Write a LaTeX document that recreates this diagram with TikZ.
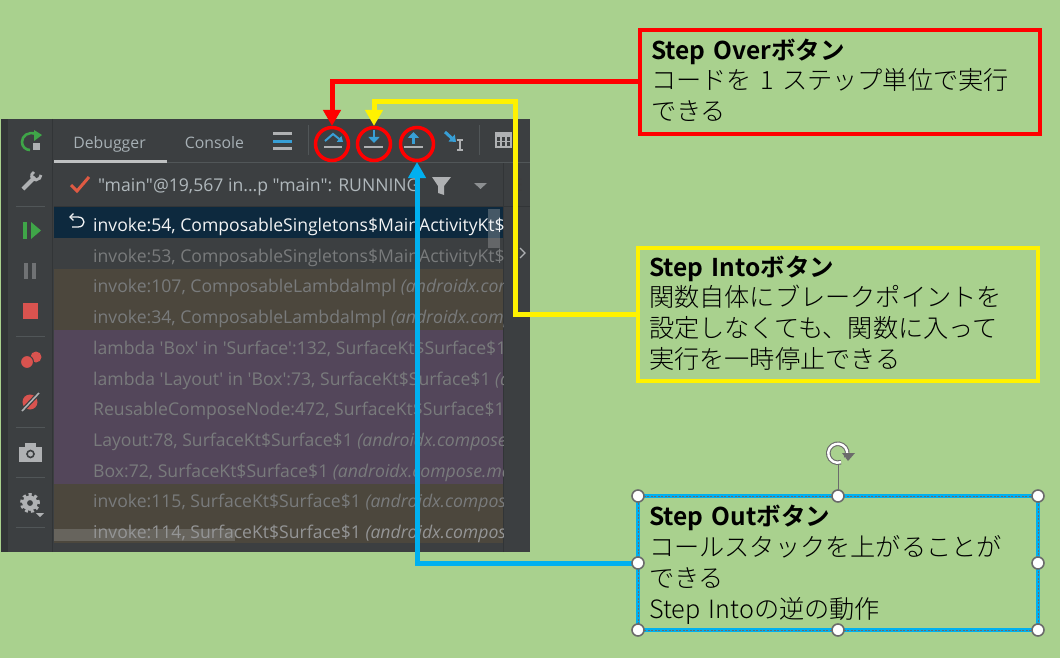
\documentclass[tikz,border=0pt]{standalone}
\usepackage{fontspec}
\newfontfamily\idefont{Open Sans}
\newfontfamily\jpfont[BoldFont={Noto Sans CJK JP Bold}]{Noto Sans CJK JP Light}
\usetikzlibrary{arrows.meta}

\definecolor{sheetgreen}{HTML}{A9D18E}
\definecolor{panelgrey}{HTML}{3C3F41}
\definecolor{edgegrey}{HTML}{323537}
\definecolor{rulegrey}{HTML}{515658}
\definecolor{iconblue}{HTML}{389FD6}
\definecolor{icongrey}{HTML}{AFB1B3}
\definecolor{iconred}{HTML}{D9534F}
\definecolor{icongreen}{HTML}{3FA548}
\definecolor{rowblue}{HTML}{0D293E}
\definecolor{rowbrown}{HTML}{4C473D}
\definecolor{rowpurple}{HTML}{53465A}
\definecolor{rowtext}{HTML}{797B7C}
\definecolor{tabtext}{HTML}{A7B0B5}
\definecolor{calloutblue}{HTML}{00B0F0}
\definecolor{handlegrey}{HTML}{6B6B6B}

\newcommand{\headline}[1]{{\fontsize{24.5}{30.7}\selectfont\bfseries #1}}
\newcommand{\tailstrut}{\rule[-5pt]{0pt}{1pt}}
\newcommand{\headstrut}{\rule{0pt}{24pt}}

\tikzset{
	x=1pt, y=-1pt,
	idetext/.style={anchor=base west, inner sep=0pt, font=\idefont\fontsize{17.6}{17.6}\selectfont},
	rowlabel/.style={idetext, color=rowtext},
	tablabel/.style={anchor=base, inner sep=0pt, color=tabtext, font=\idefont\fontsize{15.8}{16}\selectfont},
	callout/.style={draw, line width=4pt, outer sep=0pt, minimum width=400pt, text width=378pt, inner xsep=11pt, align=left, text=black, font=\jpfont\fontsize{25.2}{30.7}\selectfont},
	ringmark/.style={circle, draw=red, line width=3.5pt, minimum size=33pt, inner sep=0pt, outer sep=1.5pt},
	handle/.style={circle, draw=handlegrey, fill=white, line width=1.6pt, minimum size=12pt, inner sep=0pt},
	leader/.style={line width=5pt, -{Triangle[width=17pt,length=16pt]}},
	sidesep/.style={line width=1pt, color=rulegrey},
	baseline bar/.style={line width=2.5pt, color=icongrey},
}

\begin{document}
\begin{tikzpicture}
	%%%%% PANEL %%%%%
	\fill[sheetgreen] (0, 0) rectangle (1060, 658);
	\fill[panelgrey] (1, 119) rectangle (530, 552);
	\fill[edgegrey] (1, 119) rectangle (8, 552);
	\draw[line width=1pt, color=edgegrey] (52.5, 119) -- (52.5, 552);
	\draw[line width=1pt, color=edgegrey] (503.5, 163) -- (503.5, 552);
	\fill[rowblue] (54, 207) rectangle (503, 238);
	\fill[rowbrown] (54, 269) rectangle (503, 330);
	\fill[rowpurple] (54, 330) rectangle (503, 484);
	\fill[rowbrown] (54, 484) rectangle (503, 543);
	\draw[line width=1pt, color=rulegrey] (54, 162.5) -- (530, 162.5);
	\draw[line width=1pt, color=edgegrey] (54, 206.5) -- (530, 206.5);
	\fill[color=icongrey, opacity=0.28] (54, 529) rectangle (235, 541);
	\fill[color=icongrey, opacity=0.35] (488, 209) rectangle (500, 248);
	\draw[line width=3pt, color=icongrey!80] (54, 161) -- (167, 161);

	%%%%% TEXTS %%%%%
	\node[tablabel] (tabdebug) at (109.5, 149) {Debugger};
	\node[tablabel] (tabconsole) at (214.5, 149) {Console};
	\node[idetext, color=tabtext!90!white] (threadline) at (98, 191) {"main"@19,567 in...p "main": RUNNING};
	\node[rowlabel, color=rowtext!50!black, anchor=base] (cutletter) at (518, 191) {E};

	\begin{scope}
		\clip (54, 207) rectangle (503, 552);
		\node[idetext, color=white!85!tabtext] (rowa) at (93, 231) {invoke:54, ComposableSingletons\$MainActivityKt\$};
		\node[rowlabel] (rowb) at (93, 262) {invoke:53, ComposableSingletons\$MainActivityKt\$};
		\node[rowlabel] (rowc) at (93, 292) {invoke:107, ComposableLambdaImpl \textit{(androidx.compose}};
		\node[rowlabel] (rowd) at (93, 323) {invoke:34, ComposableLambdaImpl \textit{(androidx.compose}};
		\node[rowlabel] (rowe) at (93, 354) {lambda 'Box' in 'Surface':132, SurfaceKt\$Surface\$1 \textit{(androidx}};
		\node[rowlabel] (rowf) at (93, 385) {lambda 'Layout' in 'Box':73, SurfaceKt\$Surface\$1 \textit{(androidx}};
		\node[rowlabel] (rowg) at (93, 415) {ReusableComposeNode:472, SurfaceKt\$Surface\$1 \textit{(androidx}};
		\node[rowlabel] (rowh) at (93, 446) {Layout:78, SurfaceKt\$Surface\$1 \textit{(androidx.compose.material}};
		\node[rowlabel] (rowi) at (93, 477) {Box:72, SurfaceKt\$Surface\$1 \textit{(androidx.compose.material}};
		\node[rowlabel] (rowj) at (93, 507) {invoke:115, SurfaceKt\$Surface\$1 \textit{(androidx.compose.material}};
		\node[rowlabel, color=rowtext!80!white] (rowk) at (93, 538) {invoke:114, SurfaceKt\$Surface\$1 \textit{(androidx.compose.material}};
	\end{scope}

	%%%%% LEFT ICONS %%%%%
	\draw[line width=2.6pt, color=icongreen] (36, 134) .. controls (28, 131) and (22, 136) .. (22, 142) .. controls (22, 147) and (26, 150) .. (30, 150);
	\fill[icongreen] (34, 130) -- (42, 135) -- (34, 141) -- cycle;
	\fill[icongrey] (33, 143) rectangle (40, 150);

	\draw[line width=4pt, color=icongrey] (23, 189) -- (35, 177);
	\draw[line width=2.8pt, color=icongrey] (34, 172) .. controls (30, 174) and (31, 180) .. (36, 180) .. controls (39, 180) and (41, 177) .. (41, 175);

	\draw[sidesep] (16, 206) -- (45, 206);
	\fill[icongreen] (23, 222) rectangle (27, 239);
	\fill[icongreen] (31, 222) -- (41, 230.5) -- (31, 239) -- cycle;
	\fill[color=icongrey!45!panelgrey] (24, 263) rectangle (28, 279);
	\fill[color=icongrey!45!panelgrey] (32, 263) rectangle (36, 279);
	\fill[iconred] (23, 303) rectangle (38, 319);
	\draw[sidesep] (16, 336) -- (45, 336);

	\fill[iconred] (36, 357) circle (5.5pt);
	\draw[fill=iconred, draw=panelgrey, line width=1pt] (27, 362) circle (6.5pt);
	\fill[iconred] (30, 402) circle (7.5pt);
	\draw[line width=4pt, color=panelgrey] (22, 411) -- (39, 393);
	\draw[line width=1.6pt, color=icongrey] (22, 411) -- (39, 393);
	\draw[sidesep] (16, 427) -- (45, 427);

	\fill[icongrey] (19, 447) rectangle (42, 462);
	\fill[icongrey] (25, 443) rectangle (36, 448);
	\draw[line width=1.6pt, color=panelgrey] (30.5, 454) circle (3.5pt);
	\draw[sidesep] (16, 477) -- (45, 477);

	\draw[line width=4.5pt, color=icongrey] (30, 503) circle (5.5pt);
	\draw[line width=3pt, color=icongrey, dash pattern=on 3pt off 2.8pt] (30, 503) circle (8.5pt);
	\fill[icongrey] (36, 513) -- (44, 513) -- (40, 517) -- cycle;
	\draw[sidesep] (16, 527) -- (45, 527);

	%%%%% TOOLBAR ICONS %%%%%
	\draw[line width=3pt, color=icongrey] (273, 133.5) -- (292, 133.5);
	\draw[line width=3pt, color=iconblue] (273, 141.5) -- (292, 141.5);
	\draw[line width=3pt, color=icongrey] (273, 148.5) -- (292, 148.5);
	\draw[sidesep] (308, 125) -- (308, 155);

	\draw[baseline bar] (324, 147) -- (342, 147);
	\draw[line width=2pt, color=iconblue, -{Triangle[width=7pt,length=5pt]}] (325, 141) -- (333, 134) -- (343, 142);
	\draw[baseline bar] (364, 147) -- (383, 147);
	\draw[line width=2.4pt, color=iconblue, -{Triangle[width=11pt,length=6pt]}] (374, 130) -- (374, 143);
	\draw[baseline bar] (404, 147) -- (423, 147);
	\draw[line width=2.4pt, color=iconblue, -{Triangle[width=11pt,length=6pt]}] (413.5, 144) -- (413.5, 132);
	\draw[line width=3pt, color=iconblue, -{Triangle[width=9pt,length=6pt]}] (445, 132) -- (456, 142);
	\draw[line width=1.2pt, color=icongrey] (457, 140) -- (463, 140) (460, 140) -- (460, 150) (457, 150) -- (463, 150);
	\draw[sidesep] (479, 125) -- (479, 155);
	\fill[icongrey] (495, 132) rectangle (512, 148);
	\fill[panelgrey] (497, 137) rectangle (510, 146);
	\draw[line width=1.6pt, color=icongrey] (501, 137) -- (501, 146) (506, 137) -- (506, 146) (497, 141.5) -- (510, 141.5);

	\fill[icongrey] (432, 177) -- (451, 177) -- (444, 186) -- (444, 195) -- (438, 193) -- (438, 186) -- cycle;
	\fill[color=icongrey!70!panelgrey] (474, 183) -- (487, 183) -- (480.5, 189) -- cycle;
	\draw[line width=1.4pt, color=icongrey] (520, 248) -- (525, 253) -- (520, 258);

	\draw[line width=3pt, color=iconred!85!orange] (71, 185) -- (77, 191) -- (89, 177);
	\draw[line width=1.3pt, color=white!85!tabtext, -{Straight Barb[length=3.5pt,width=7pt]}] (72, 227) -- (78, 227) .. controls (86, 227) and (86, 217) .. (78, 217) -- (69, 217);

	%%%%% MARKS AND CALLOUTS %%%%%
	\node[ringmark] (ringover) at (332, 144) {};
	\node[ringmark] (ringinto) at (374, 144) {};
	\node[ringmark] (ringout) at (417, 144) {};

	\node[callout, draw=red, minimum height=104pt] (boxover) at (840, 82) {\headline{Step Overボタン}\\コードを 1 ステップ単位で実行\\できる\tailstrut};
	\node[callout, draw=yellow, minimum height=133pt] (boxinto) at (838, 314.5) {\headline{Step Intoボタン}\\関数自体にブレークポイントを\\設定しなくても、関数に入って\\実行を一時停止できる\tailstrut};
	\node[callout, draw=calloutblue, minimum height=134pt] (boxout) at (838, 563) {\headstrut\headline{Step Outボタン}\\コールスタックを上がることが\\できる\\Step Intoの逆の動作};
	\draw[line width=0.7pt, color=handlegrey, dashed, dash pattern=on 2pt off 1.5pt] (boxout.north west) rectangle (boxout.south east);

	\coordinate (bendinto) at (515, 101.5);
	\draw[leader, color=red] (boxover.west) -| (ringover.north);
	\draw[leader, color=yellow] (boxinto.west) -| (bendinto) -| (ringinto.north);
	\draw[leader, color=calloutblue] (boxout.west) -| (ringout.south);

	%%%%% HANDLES %%%%%
	\coordinate (spinhub) at (838, 453);
	\draw[line width=1pt, color=handlegrey] (spinhub) ++(0, 12) -- (boxout.north);
	\draw[line width=4.6pt, color=handlegrey] (846, 458) arc (-30:290:9.5pt);
	\draw[line width=2.4pt, color=white] (846, 458) arc (-30:290:9.5pt);
	\fill[handlegrey] (842, 453) -- (855, 453) -- (848, 461) -- cycle;

	\node[handle] (hnw) at (boxout.north west) {};
	\node[handle] (hn) at (boxout.north) {};
	\node[handle] (hne) at (boxout.north east) {};
	\node[handle] (hw) at (boxout.west) {};
	\node[handle] (he) at (boxout.east) {};
	\node[handle] (hsw) at (boxout.south west) {};
	\node[handle] (hs) at (boxout.south) {};
	\node[handle] (hse) at (boxout.south east) {};
\end{tikzpicture}
\end{document}
